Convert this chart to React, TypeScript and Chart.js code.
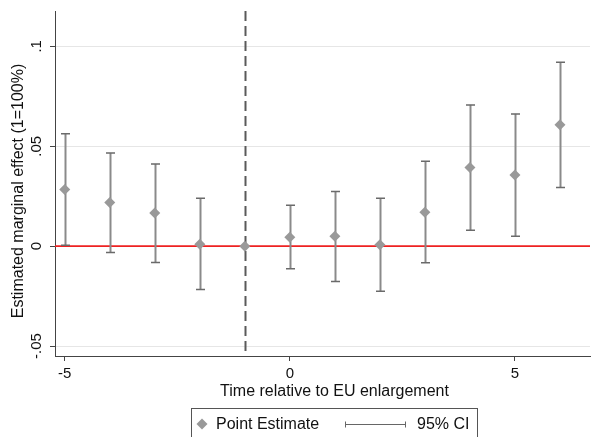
import React, { useEffect, useRef } from "react";
import { Chart, registerables } from "chart.js";

Chart.register(...registerables);

const periods = [-5, -4, -3, -2, -1, 0, 1, 2, 3, 4, 5, 6];
const estimates = [0.0283, 0.0218, 0.0166, 0.001, 0, 0.0045, 0.005, 0.0007, 0.017, 0.0393, 0.0356, 0.0607];
const ciUpper = [0.0562, 0.0466, 0.0411, 0.024, null, 0.0204, 0.0274, 0.024, 0.0425, 0.0707, 0.0662, 0.092];
const ciLower = [0.0004, -0.0032, -0.0082, -0.0217, null, -0.0113, -0.0177, -0.0226, -0.0083, 0.0079, 0.005, 0.0294];
const xTicks = [-5, 0, 5];
const yTicks = [-0.05, 0, 0.05, 0.1];
const yTickLabels = ["-.05", "0", ".05", ".1"];
const eventPeriod = -1;
const xTitle = "Time relative to EU enlargement";
const yTitle = "Estimated marginal effect (1=100%)";
const legendLabels = ["Point Estimate", "95% CI"];

const FONT = "'Liberation Sans', Arial, Helvetica, sans-serif";

const overlayPlugin = {
  id: "overlay",
  beforeDatasetsDraw(chart: any) {
    const { ctx, chartArea, scales } = chart;
    const xs = scales.x;
    const ys = scales.y;
    ctx.save();
    // zero line
    const y0 = ys.getPixelForValue(0);
    ctx.strokeStyle = "#ee2222";
    ctx.lineWidth = 1.6;
    ctx.beginPath();
    ctx.moveTo(chartArea.left, y0);
    ctx.lineTo(chartArea.right, y0);
    ctx.stroke();
    // dashed event line
    const xe = Math.round(xs.getPixelForValue(eventPeriod)) + 0.5;
    ctx.strokeStyle = "#5a5a5a";
    ctx.lineWidth = 2;
    ctx.setLineDash([10, 5]);
    ctx.beginPath();
    ctx.moveTo(xe, chartArea.top);
    ctx.lineTo(xe, chartArea.bottom);
    ctx.stroke();
    ctx.setLineDash([]);
    // error bars
    periods.forEach((p, i) => {
      const hi = ciUpper[i];
      const lo = ciLower[i];
      if (hi === null || lo === null) return;
      const x = Math.round(xs.getPixelForValue(p)) + 0.5;
      const yh = ys.getPixelForValue(hi);
      const yl = ys.getPixelForValue(lo);
      ctx.strokeStyle = "#8a8a8a";
      ctx.lineWidth = 2;
      ctx.beginPath();
      ctx.moveTo(x, yh);
      ctx.lineTo(x, yl);
      ctx.stroke();
      ctx.strokeStyle = "#6a6a6a";
      ctx.lineWidth = 1.5;
      ctx.beginPath();
      ctx.moveTo(x - 4.5, yh);
      ctx.lineTo(x + 4.5, yh);
      ctx.moveTo(x - 4.5, yl);
      ctx.lineTo(x + 4.5, yl);
      ctx.stroke();
    });
    ctx.restore();
  },
  afterDraw(chart: any) {
    const { ctx } = chart;
    ctx.save();
    // axis titles
    ctx.fillStyle = "#111";
    ctx.font = `16px ${FONT}`;
    ctx.textBaseline = "middle";
    ctx.textAlign = "center";
    ctx.fillText(xTitle, 334.5, 391.5);
    ctx.save();
    ctx.translate(18.5, 191);
    ctx.rotate(-Math.PI / 2);
    ctx.fillText(yTitle, 0, 0);
    ctx.restore();
    // legend box
    ctx.strokeStyle = "#555";
    ctx.lineWidth = 1;
    ctx.strokeRect(191.5, 408.5, 286, 32);
    const cy = 424;
    // diamond
    ctx.fillStyle = "#999999";
    ctx.beginPath();
    ctx.moveTo(202, cy - 5.5);
    ctx.lineTo(207.5, cy);
    ctx.lineTo(202, cy + 5.5);
    ctx.lineTo(196.5, cy);
    ctx.closePath();
    ctx.fill();
    ctx.fillStyle = "#111";
    ctx.font = `16px ${FONT}`;
    ctx.textBaseline = "middle";
    ctx.textAlign = "left";
    ctx.fillText(legendLabels[0], 216, cy + 1);
    // CI line
    ctx.strokeStyle = "#666";
    ctx.lineWidth = 1;
    ctx.beginPath();
    ctx.moveTo(345, cy + 0.5);
    ctx.lineTo(406, cy + 0.5);
    ctx.moveTo(345.5, cy - 2.5);
    ctx.lineTo(345.5, cy + 3.5);
    ctx.moveTo(405.5, cy - 2.5);
    ctx.lineTo(405.5, cy + 3.5);
    ctx.stroke();
    ctx.fillText(legendLabels[1], 417, cy + 1);
    ctx.restore();
  },
};

export default function App() {
  const ref = useRef<HTMLCanvasElement>(null);
  useEffect(() => {
    document.body.style.margin = "0";
    const canvas = ref.current!;
    const chart = new Chart(canvas, {
      type: "scatter",
      data: {
        datasets: [
          {
            label: legendLabels[0],
            data: periods.map((p, i) => ({ x: p, y: estimates[i] })),
            pointStyle: "rectRot",
            radius: 5.5,
            backgroundColor: "#999999",
            borderWidth: 0,
          },
        ],
      },
      options: {
        animation: false,
        responsive: false,
        layout: { autoPadding: false, padding: { top: 11, right: 1, left: 0, bottom: 28 } },
        plugins: { legend: { display: false }, tooltip: { enabled: false } },
        scales: {
          x: {
            type: "linear",
            min: -5.216,
            max: 6.667,
            afterBuildTicks: (s: any) => {
              s.ticks = xTicks.map((v) => ({ value: v }));
            },
            afterFit: (s: any) => {
              s.height = 53;
            },
            grid: { drawOnChartArea: false, drawTicks: true, tickLength: 5, tickColor: "#444", tickWidth: 1 },
            border: { display: true, color: "#444", width: 1 },
            ticks: {
              font: { family: FONT, size: 15 },
              color: "#111",
              padding: 4,
              maxRotation: 0,
              autoSkip: false,
              callback: (v: any) => String(v),
            },
            title: { display: false },
          },
          y: {
            type: "linear",
            min: -0.055,
            max: 0.1177,
            afterBuildTicks: (s: any) => {
              s.ticks = yTicks.map((v) => ({ value: v }));
            },
            afterFit: (s: any) => {
              s.width = 55;
            },
            grid: { color: "#e6e6e6", lineWidth: 1, drawTicks: true, tickLength: 5, tickColor: "#444", tickWidth: 1 },
            border: { display: true, color: "#444", width: 1 },
            ticks: {
              font: { family: FONT, size: 15 },
              color: "#111",
              padding: 0,
              minRotation: 90,
              maxRotation: 90,
              crossAlign: "center",
              autoSkip: false,
              callback: (v: any) => {
                const idx = yTicks.findIndex((t) => Math.abs(t - v) < 1e-9);
                return idx >= 0 ? yTickLabels[idx] : "";
              },
            },
            title: { display: false },
          },
        },
      },
      plugins: [overlayPlugin],
    } as any);
    return () => chart.destroy();
  }, []);
  return (
    <div style={{ width: 591, height: 437 }}>
      <canvas ref={ref} width={591} height={437} style={{ display: "block" }} />
    </div>
  );
}
